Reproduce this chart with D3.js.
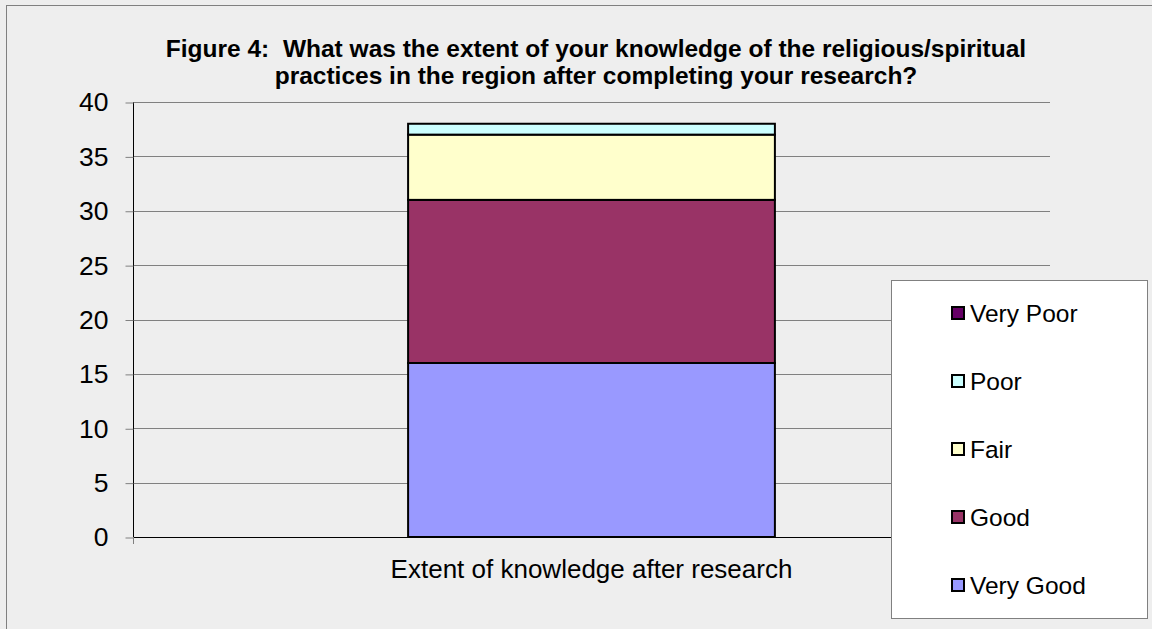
<!DOCTYPE html>
<html>
<head>
<meta charset="utf-8">
<script src="https://cdn.jsdelivr.net/npm/d3@7"></script>
<style>
  html, body { margin: 0; padding: 0; background: #eeeeee; }
  svg { display: block; }
  text { font-family: "Liberation Sans", Arial, sans-serif; fill: #000; }
</style>
</head>
<body>
<svg id="chart" width="1152" height="629"></svg>
<script>
const categories = ["Extent of knowledge after research"];
const seriesNames = ["Very Good", "Good", "Fair", "Poor", "Very Poor"];
const seriesValues = [16, 15, 6, 1, 0];
const seriesColors = ["#9999FF", "#993366", "#FFFFCC", "#CCFFFF", "#660066"];
const yTicks = [0, 5, 10, 15, 20, 25, 30, 35, 40];
const titleLines = [
  "Figure 4:  What was the extent of your knowledge of the religious/spiritual",
  "practices in the region after completing your research?"
];

const svg = d3.select("#chart");
const W = 1152, H = 629;
const plot = { left: 133, right: 1050, top: 102, bottom: 537 };

// outer frame
svg.append("rect").attr("x", 0).attr("y", 0).attr("width", W).attr("height", H).attr("fill", "#eeeeee");
svg.append("rect").attr("x", 6.5).attr("y", 5.5).attr("width", W).attr("height", H)
  .attr("fill", "#eeeeee").attr("stroke", "#808080").attr("stroke-width", 1);

const x = d3.scaleBand().domain(categories).range([plot.left, plot.right]).paddingInner(0).paddingOuter(0);
const y = d3.scaleLinear().domain([0, 40]).range([plot.bottom, plot.top]);

// gridlines
svg.append("g").selectAll("line").data(yTicks.filter(d => d > 0)).join("line")
  .attr("x1", plot.left).attr("x2", plot.right)
  .attr("y1", d => Math.round(y(d)) + 0.5).attr("y2", d => Math.round(y(d)) + 0.5)
  .attr("stroke", "#808080").attr("stroke-width", 1);

// y axis
const yAxis = d3.axisLeft(y).tickValues(yTicks).tickSize(8).tickPadding(17).tickFormat(d3.format("d"));
const gy = svg.append("g").attr("transform", `translate(${plot.left + 0.5},0.5)`).call(yAxis);
gy.select(".domain").attr("stroke", "#000").attr("d", `M0,${plot.top}V${plot.bottom}`);
gy.selectAll(".tick line").attr("stroke", "#808080");
gy.selectAll(".tick text").attr("font-size", "26.5px").attr("font-family", "Liberation Sans, Arial, sans-serif").attr("fill", "#000");

// x axis
const xAxis = d3.axisBottom(x).tickSize(0).tickPadding(0);
const gx = svg.append("g").attr("transform", `translate(0,${plot.bottom + 0.5})`).call(xAxis);
gx.select(".domain").attr("stroke", "#000").attr("d", `M${plot.left},0H${plot.right}`);
gx.selectAll(".tick text").attr("font-size", "26px").attr("font-family", "Liberation Sans, Arial, sans-serif").attr("fill", "#000")
  .attr("y", 40).attr("dy", 0);
// category boundary tick mark
svg.append("g").selectAll("line").data([plot.left]).join("line")
  .attr("x1", d => d + 0.5).attr("x2", d => d + 0.5).attr("y1", plot.bottom).attr("y2", plot.bottom + 7)
  .attr("stroke", "#808080");

// stacked bar
const row = {};
seriesNames.forEach((n, i) => row[n] = seriesValues[i]);
const stack = d3.stack().keys(seriesNames)([row]);
const barW = x.bandwidth() * 0.4;
const bx = x(categories[0]) + (x.bandwidth() - barW) / 2;
svg.append("g").selectAll("rect").data(stack).join("rect")
  .attr("x", bx).attr("width", barW)
  .attr("y", d => y(d[0][1])).attr("height", d => y(d[0][0]) - y(d[0][1]))
  .attr("fill", (d, i) => seriesColors[i])
  .attr("stroke", "#000").attr("stroke-width", 2);

// title
const title = svg.append("text").attr("text-anchor", "middle").attr("font-weight", "bold")
  .attr("font-size", "24.5px").style("white-space", "pre");
titleLines.forEach((l, i) => title.append("tspan").attr("x", 596).attr("y", 57 + i * 27).text(l));

// legend
svg.append("rect").attr("x", 891.5).attr("y", 280.5).attr("width", 256).attr("height", 338)
  .attr("fill", "#fff").attr("stroke", "#808080");
const legendOrder = seriesNames.map((n, i) => i).reverse();
const lg = svg.append("g").selectAll("g").data(legendOrder).join("g")
  .attr("transform", (d, i) => `translate(952,${313 + i * 68})`);
lg.append("rect").attr("x", 0).attr("y", -6).attr("width", 12).attr("height", 12)
  .attr("fill", d => seriesColors[d]).attr("stroke", "#000").attr("stroke-width", 2);
lg.append("text").attr("x", 18).attr("y", 0).attr("dy", "0.36em").attr("font-size", "24.5px")
  .text(d => seriesNames[d]);
</script>
</body>
</html>
